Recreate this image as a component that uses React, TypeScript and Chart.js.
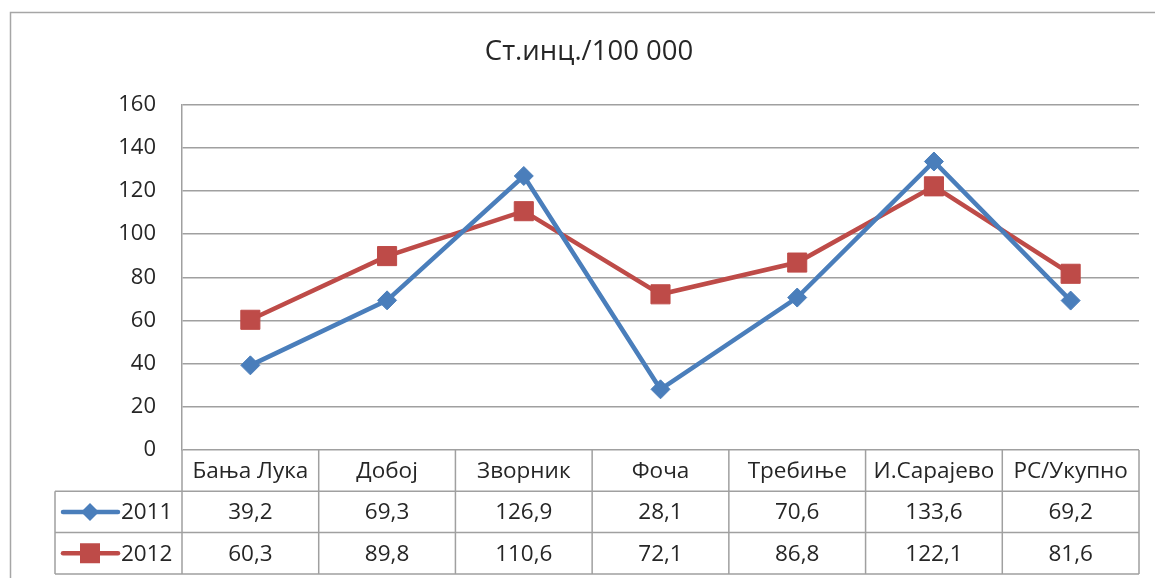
import React, { useEffect, useRef } from 'react';
import { Chart, registerables } from 'chart.js';

Chart.register(...registerables);

const titleText = 'Ст.инц./100 000';
const categories = ['Бања Лука', 'Добој', 'Зворник', 'Фоча', 'Требиње', 'И.Сарајево', 'РС/Укупно'];
const seriesNames = ['2011', '2012'];
const values2011 = [39.2, 69.3, 126.9, 28.1, 70.6, 133.6, 69.2];
const values2012 = [60.3, 89.8, 110.6, 72.1, 86.8, 122.1, 81.6];
const yMin = 0;
const yMax = 160;
const yStep = 20;

const FONT = '"Open Sans", "Noto Sans", sans-serif';
const TEXT = '#262626';
const GRID = '#a0a0a0';
const BLUE = '#4a7ebb';
const RED = '#be4b48';

const fmt = (v: number) => v.toFixed(1).replace('.', ',');

const framePlugin = {
  id: 'frame',
  beforeDraw(chart: any) {
    const { ctx, width, height } = chart;
    ctx.save();
    ctx.fillStyle = '#ffffff';
    ctx.fillRect(0, 0, width, height);
    ctx.strokeStyle = '#a6a6a6';
    ctx.lineWidth = 1.5;
    ctx.beginPath();
    ctx.moveTo(10.5, height);
    ctx.lineTo(10.5, 12.5);
    ctx.lineTo(width, 12.5);
    ctx.stroke();
    ctx.restore();
  },
};

const tablePlugin = {
  id: 'dataTable',
  afterDraw(chart: any) {
    const { ctx, chartArea } = chart;
    const xs = chart.scales.x;
    const left = chartArea.left;
    const right = chartArea.right;
    const top = chartArea.bottom;
    const rowH = 41.3;
    const legendLeft = 55;
    const n = categories.length;
    const bounds: number[] = [];
    for (let i = 0; i <= n; i++) {
      if (i === 0) bounds.push(left);
      else if (i === n) bounds.push(right);
      else bounds.push((xs.getPixelForValue(i - 1) + xs.getPixelForValue(i)) / 2);
    }
    const rows = [top, top + rowH, top + 2 * rowH, top + 3 * rowH];
    ctx.save();
    ctx.strokeStyle = GRID;
    ctx.lineWidth = 1.5;
    ctx.beginPath();
    for (let r = 1; r < rows.length; r++) {
      ctx.moveTo(legendLeft, rows[r]);
      ctx.lineTo(right, rows[r]);
    }
    for (const b of bounds) {
      ctx.moveTo(b, rows[0]);
      ctx.lineTo(b, rows[3]);
    }
    ctx.moveTo(legendLeft, rows[1]);
    ctx.lineTo(legendLeft, rows[3]);
    ctx.stroke();

    ctx.fillStyle = TEXT;
    ctx.font = `22.5px ${FONT}`;
    ctx.textAlign = 'center';
    ctx.textBaseline = 'middle';
    const rowVals = [values2011, values2012];
    for (let i = 0; i < n; i++) {
      const cx = xs.getPixelForValue(i);
      ctx.fillText(categories[i], cx, (rows[0] + rows[1]) / 2 + 1);
      for (let r = 0; r < 2; r++) {
        ctx.fillText(fmt(rowVals[r][i]), cx, (rows[r + 1] + rows[r + 2]) / 2 + 1);
      }
    }

    const colors = [BLUE, RED];
    for (let r = 0; r < 2; r++) {
      const cy = (rows[r + 1] + rows[r + 2]) / 2;
      ctx.strokeStyle = colors[r];
      ctx.lineWidth = 4.5;
      ctx.lineCap = 'round';
      ctx.beginPath();
      ctx.moveTo(legendLeft + 8, cy);
      ctx.lineTo(legendLeft + 63, cy);
      ctx.stroke();
      const mx = legendLeft + 35;
      ctx.fillStyle = colors[r];
      ctx.beginPath();
      if (r === 0) {
        ctx.moveTo(mx, cy - 9);
        ctx.lineTo(mx + 9, cy);
        ctx.lineTo(mx, cy + 9);
        ctx.lineTo(mx - 9, cy);
        ctx.closePath();
      } else {
        ctx.rect(mx - 10, cy - 10, 20, 20);
      }
      ctx.fill();
      ctx.fillStyle = TEXT;
      ctx.textAlign = 'left';
      ctx.fillText(seriesNames[r], legendLeft + 66, cy + 1);
    }
    ctx.restore();
  },
};

export default function App() {
  const ref = useRef<HTMLCanvasElement | null>(null);
  useEffect(() => {
    if (!ref.current) return;
    const chart = new Chart(ref.current, {
      type: 'line',
      data: {
        labels: categories,
        datasets: [
          {
            label: seriesNames[0],
            data: values2011,
            borderColor: BLUE,
            backgroundColor: BLUE,
            borderWidth: 4.5,
            pointStyle: 'rectRot',
            pointRadius: 9.5,
            pointBorderWidth: 1,
            pointBackgroundColor: BLUE,
            pointBorderColor: BLUE,
            tension: 0,
          },
          {
            label: seriesNames[1],
            data: values2012,
            borderColor: RED,
            backgroundColor: RED,
            borderWidth: 4.5,
            pointStyle: 'rect',
            pointRadius: 13.5,
            pointBorderWidth: 1,
            pointBackgroundColor: RED,
            pointBorderColor: RED,
            tension: 0,
          },
        ],
      },
      options: {
        responsive: false,
        animation: false,
        layout: { padding: { left: 39, right: 16, top: 0, bottom: 128 } },
        plugins: {
          legend: { display: false },
          tooltip: { enabled: false },
          title: {
            display: true,
            text: titleText,
            color: TEXT,
            font: { family: FONT, size: 27.5, weight: 'normal' },
            padding: { top: 36, bottom: 35.5 },
          },
        },
        scales: {
          x: {
            type: 'category',
            display: false,
            offset: true,
          },
          y: {
            min: yMin,
            max: yMax,
            afterFit: (scale: any) => {
              scale.width = 143;
            },
            ticks: {
              stepSize: yStep,
              padding: 26,
              color: TEXT,
              font: { family: FONT, size: 22 },
            },
            grid: {
              color: GRID,
              lineWidth: 1.5,
              drawTicks: false,
            },
            border: { display: true, color: GRID, width: 1.5 },
          },
        },
      },
      plugins: [framePlugin, tablePlugin],
    });
    return () => chart.destroy();
  }, []);
  return (
    <div style={{ position: 'fixed', left: 0, top: 0, width: 1155, height: 578, background: '#fff' }}>
      <canvas ref={ref} width={1155} height={578} />
    </div>
  );
}
